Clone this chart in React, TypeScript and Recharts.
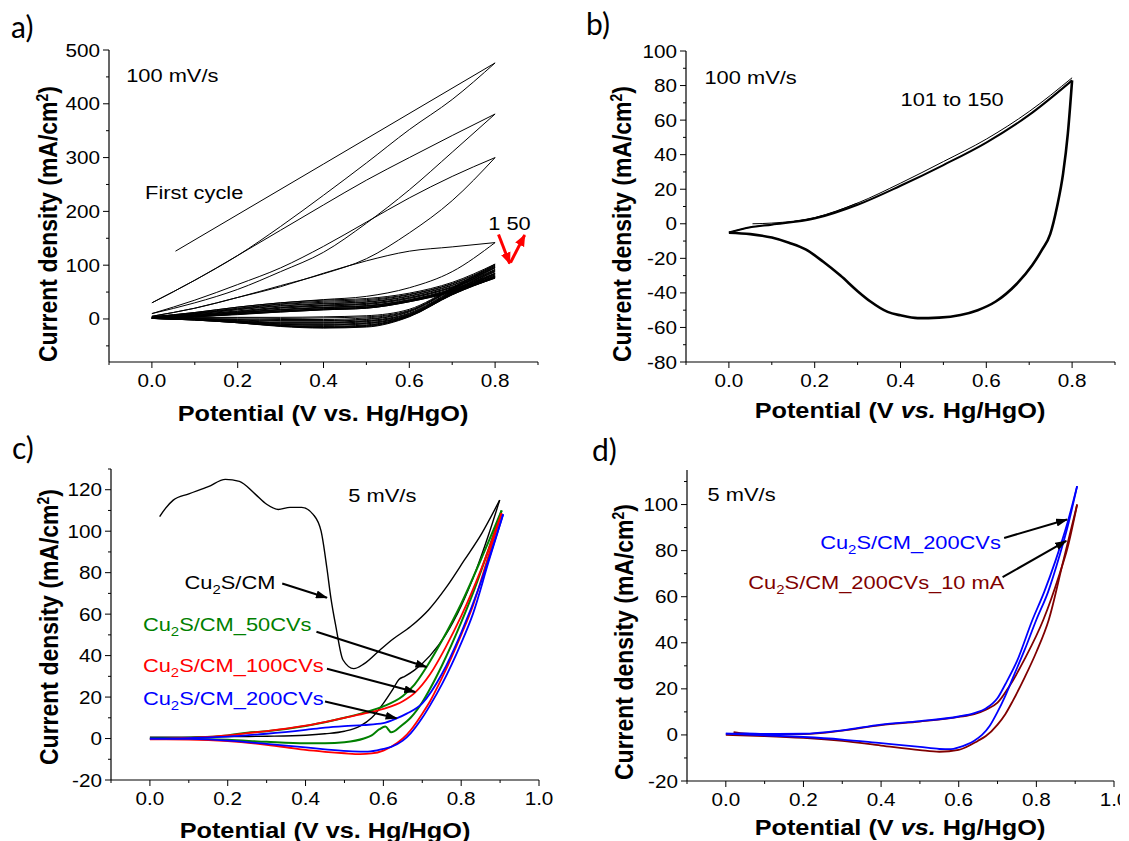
import React from "react";
import { LineChart, Line, XAxis, YAxis, ReferenceDot, ReferenceLine } from "recharts";

const FONT = "'Liberation Sans', Arial, sans-serif";
const SX = 1.15; // the source figure is slightly stretched horizontally

// ---------- tick values ----------
const xTicksAB = [-0.1, 0, 0.1, 0.2, 0.3, 0.4, 0.5, 0.6, 0.7, 0.8, 0.9];
const xTicksCD = [-0.1, 0, 0.1, 0.2, 0.3, 0.4, 0.5, 0.6, 0.7, 0.8, 0.9, 1.0];
const yTicksA = [-50, 0, 50, 100, 150, 200, 250, 300, 350, 400, 450, 500];
const yTicksB = [-80, -70, -60, -50, -40, -30, -20, -10, 0, 10, 20, 30, 40, 50, 60, 70, 80, 90, 100];
const yTicksC = [-20, -10, 0, 10, 20, 30, 40, 50, 60, 70, 80, 90, 100, 110, 120, 130];
const yTicksD = [-20, -10, 0, 10, 20, 30, 40, 50, 60, 70, 80, 90, 100, 110];

// ---------- panel a: first 50 cycles ----------
const a1Up = [[0.055, 126], [0.4, 288], [0.8, 476]];
const a1Down = [[0.8, 476], [0.7, 408], [0.6, 352], [0.5, 290], [0.4, 230], [0.3, 172], [0.2, 118], [0.1, 72], [0, 30]];
const a2Up = [[0, 30], [0.1, 72], [0.2, 118], [0.3, 165], [0.4, 212], [0.5, 258], [0.6, 300], [0.7, 341], [0.8, 381]];
const a2Down = [[0.8, 381], [0.7, 310], [0.6, 240], [0.5, 178], [0.4, 124], [0.3, 88], [0.2, 55], [0.1, 30], [0, 10]];
const a3Up = [[0, 10], [0.1, 35], [0.2, 64], [0.3, 95], [0.4, 135], [0.5, 180], [0.6, 225], [0.7, 265], [0.8, 300]];
const a3Down = [[0.8, 300], [0.7, 220], [0.6, 160], [0.5, 112], [0.4, 84], [0.3, 62], [0.2, 40], [0.1, 20], [0, 5]];
const a4Up = [[0, 5], [0.1, 20], [0.2, 40], [0.3, 60], [0.4, 85], [0.5, 108], [0.6, 126], [0.7, 134], [0.8, 142]];
const a4Down = [[0.8, 142], [0.7, 88], [0.6, 58], [0.5, 42], [0.4, 36], [0.3, 30], [0.2, 22], [0.1, 12], [0, 4]];

// later cycles (5 to 50) crowd into a band; a selection of them
const bandUpX = [0, 0.1, 0.2, 0.3, 0.4, 0.5, 0.6, 0.7, 0.8];
const bandDownX = [0.8, 0.7, 0.6, 0.5, 0.4, 0.3, 0.2, 0.1, 0];
const bandUp = [
  [4, 12, 22, 30, 35, 38, 48, 68, 102],
  [4, 11, 20, 28, 33, 36, 46, 66, 100],
  [3, 10, 19, 27, 31, 34, 45, 65, 98],
  [3, 10, 18, 25, 29, 32, 43, 63, 96],
  [3, 9, 17, 24, 28, 31, 42, 62, 95],
  [2, 8, 15, 22, 26, 29, 40, 60, 92],
  [2, 8, 14, 21, 25, 28, 39, 59, 90],
  [2, 7, 13, 20, 24, 27, 38, 58, 88],
  [2, 6, 12, 18, 22, 25, 36, 56, 85],
  [1, 6, 12, 17, 21, 24, 35, 55, 84],
  [1, 5, 11, 17, 21, 24, 35, 54, 82],
  [1, 5, 10, 15, 19, 22, 34, 53, 80],
  [1, 5, 10, 15, 19, 22, 33, 52, 79],
  [1, 4, 9, 14, 18, 21, 33, 52, 78],
  [1, 4, 9, 13, 17, 20, 32, 51, 77],
  [1, 4, 8, 13, 17, 20, 32, 50, 76],
];
const bandDown = [
  [102, 58, 18, 6, 4, 3, 3, 3, 4],
  [100, 57, 16, 4, 2, 1, 2, 2, 3],
  [98, 56, 15, 2, -1, -1, 0, 1, 3],
  [96, 55, 14, 0, -3, -3, -1, 0, 3],
  [95, 54, 13, -1, -4, -4, -2, 0, 2],
  [92, 52, 11, -3, -6, -6, -3, 0, 2],
  [90, 51, 10, -4, -7, -7, -4, -1, 2],
  [88, 50, 9, -5, -8, -8, -4, -1, 2],
  [85, 49, 8, -7, -10, -9, -5, -1, 1],
  [84, 48, 7, -8, -11, -10, -5, -1, 1],
  [82, 48, 7, -9, -12, -11, -6, -1, 1],
  [80, 47, 6, -11, -14, -12, -6, -1, 1],
  [79, 46, 6, -12, -15, -12, -6, -1, 1],
  [78, 46, 5, -13, -16, -13, -7, -2, 1],
  [77, 45, 5, -14, -16, -13, -7, -2, 1],
  [76, 45, 4, -15, -17, -14, -7, -2, 1],
];

// ---------- panel b: cycles 101 to 150 ----------
const bStart = [[0.055, 0], [0.1, 0.4], [0.2, 3.6], [0.3, 12]];
const bUp1 = [[0, -5], [0.05, -2], [0.1, -0.5], [0.2, 3], [0.3, 11], [0.4, 22], [0.5, 34], [0.6, 47], [0.7, 63], [0.8, 83]];
const bUp2 = [[0, -5], [0.05, -2], [0.1, -0.3], [0.2, 3.5], [0.3, 12], [0.4, 23.5], [0.5, 36], [0.6, 49], [0.7, 65], [0.8, 84.5]];
const bDown = [[0.8, 83], [0.79, 52], [0.779, 29], [0.765, 10], [0.749, -6], [0.73, -15], [0.707, -24], [0.67, -35], [0.622, -45], [0.58, -50], [0.54, -52.8], [0.49, -54.3], [0.44, -54.6], [0.4, -53], [0.37, -51], [0.33, -45], [0.3, -39], [0.26, -30], [0.22, -22], [0.18, -15], [0.14, -11], [0.1, -8], [0.05, -6], [0, -5.2]];

// ---------- panel c: 5 mV/s ----------
const cBlackUp = [[0.025, 107], [0.04, 111], [0.06, 115], [0.1, 118], [0.15, 121.5], [0.194, 125], [0.23, 124], [0.27, 118], [0.3, 113], [0.33, 110.5], [0.36, 111.5], [0.39, 111.5], [0.42, 108], [0.44, 100], [0.455, 82], [0.465, 68], [0.478, 54], [0.496, 38], [0.524, 33.7], [0.55, 36], [0.59, 42.5], [0.625, 48], [0.67, 54], [0.716, 62], [0.762, 73], [0.808, 86], [0.853, 99], [0.899, 115]];
const cBlackDown = [[0.899, 115], [0.87, 98], [0.84, 82], [0.8, 64], [0.76, 50], [0.72, 40], [0.68, 33], [0.655, 30], [0.64, 28.5], [0.625, 24], [0.6, 17], [0.57, 10], [0.54, 6], [0.5, 3.5], [0.45, 2.3], [0.4, 1.6], [0.3, 1.1], [0.2, 0.9], [0.1, 0.7], [0, 0.6]];
const cGreenUp = [[0, 0], [0.1, 0.4], [0.2, 1.5], [0.25, 2.8], [0.3, 3.5], [0.4, 6], [0.5, 10], [0.55, 12.5], [0.6, 15.5], [0.65, 20.5], [0.68, 26], [0.711, 34.5], [0.75, 47], [0.8, 65], [0.85, 86], [0.904, 110]];
const cGreenDown = [[0.904, 110], [0.87, 91], [0.83, 70], [0.8, 56], [0.75, 35], [0.72, 24], [0.7, 17.5], [0.67, 10], [0.645, 6], [0.62, 3], [0.605, 5.8], [0.59, 4.5], [0.57, 1.5], [0.55, 0], [0.5, -1.8], [0.45, -2.3], [0.4, -2.3], [0.3, -1.6], [0.2, -0.6], [0.1, -0.1], [0, 0]];
const cRedUp = [[0, -0.3], [0.1, 0.3], [0.2, 1.5], [0.25, 2.6], [0.3, 3.6], [0.4, 6.2], [0.5, 10], [0.55, 12], [0.6, 14.3], [0.65, 18], [0.682, 22.3], [0.72, 31], [0.76, 44], [0.8, 59], [0.85, 81], [0.904, 108.7]];
const cRedDown = [[0.904, 108.7], [0.87, 88], [0.83, 64], [0.8, 50], [0.75, 29], [0.72, 18], [0.7, 12], [0.67, 4], [0.65, 0], [0.62, -4], [0.6, -5.8], [0.57, -7.2], [0.54, -7.5], [0.5, -7.1], [0.45, -6.4], [0.4, -5.5], [0.35, -4.2], [0.3, -3], [0.2, -1.2], [0.1, -0.5], [0, -0.4]];
const cBlueUp = [[0, 0], [0.1, 0.2], [0.2, 0.9], [0.3, 2.3], [0.4, 4.2], [0.45, 5.3], [0.5, 6], [0.55, 6.5], [0.6, 7.4], [0.634, 9.7], [0.66, 12], [0.7, 17], [0.75, 31], [0.8, 51], [0.85, 75], [0.908, 108.2]];
const cBlueDown = [[0.908, 108.2], [0.87, 85], [0.83, 60], [0.8, 46], [0.75, 26], [0.72, 16], [0.7, 10], [0.67, 2.5], [0.65, -1], [0.62, -4], [0.6, -5], [0.56, -6.3], [0.52, -6.2], [0.45, -5.2], [0.4, -4.3], [0.3, -2.6], [0.2, -1], [0.1, -0.2], [0, 0]];

// ---------- panel d: 5 mV/s ----------
const dBlueUp = [[0, 0.6], [0.05, 0.7], [0.1, 0.4], [0.2, 0.5], [0.3, 2], [0.4, 4.5], [0.5, 6], [0.6, 8], [0.64, 9.5], [0.67, 11.5], [0.7, 16], [0.72, 22], [0.75, 32], [0.79, 50], [0.82, 62], [0.85, 76], [0.88, 92], [0.905, 108]];
const dBlueDown = [[0.905, 108], [0.88, 90], [0.86, 78], [0.83, 62], [0.8, 50], [0.77, 37], [0.74, 25], [0.72, 17], [0.7, 10], [0.68, 4], [0.66, 0], [0.64, -2.5], [0.62, -4.2], [0.6, -5.4], [0.58, -6.2], [0.55, -6.1], [0.5, -5.2], [0.4, -3.6], [0.3, -2], [0.2, -0.9], [0.1, -0.2], [0, 0.6]];
const dRedUp = [[0.02, 1.2], [0.05, 0.6], [0.1, 0.3], [0.2, 0.4], [0.3, 1.9], [0.4, 4.3], [0.5, 5.8], [0.6, 7.8], [0.64, 9], [0.67, 11], [0.7, 14], [0.73, 21], [0.77, 33], [0.818, 50], [0.86, 70], [0.88, 81], [0.905, 100]];
const dRedDown = [[0.905, 100], [0.87, 76], [0.832, 50], [0.8, 36], [0.77, 25], [0.74, 15], [0.72, 9], [0.7, 4.5], [0.67, -0.5], [0.65, -2.5], [0.6, -6.5], [0.55, -7.3], [0.5, -6.6], [0.4, -4.6], [0.3, -2.6], [0.2, -1.3], [0.1, -0.5], [0, 0]];

const pts = (a: number[][]) => a.map(([x, y]) => ({ x, y }));
const zip = (xs: number[], ys: number[]) => xs.map((x, i) => ({ x, y: ys[i] }));

const aSweeps = [
  pts(a1Up), pts(a1Down), pts(a2Up), pts(a2Down), pts(a3Up), pts(a3Down), pts(a4Up), pts(a4Down),
  ...bandUp.flatMap((u, i) => [zip(bandUpX, u), zip(bandDownX, bandDown[i])]),
];

// ---------- axes ----------
const AXIS = { stroke: "#000", strokeWidth: 1.2 };
const TICK_FS = 18;
const fmtX = (v: number) => v.toFixed(1);
const fmtY = (v: number) => String(Math.round(v));
const xMajor = (v: number) => Math.round(v * 10) % 2 === 0;
const yMajor100 = (v: number) => Math.round(v) % 100 === 0;
const yMajor20 = (v: number) => Math.round(v) % 20 === 0;

const bottomTick = (isMajor: (v: number) => boolean) => (p: any) => {
  const { x, y, payload } = p;
  const major = isMajor(payload.value);
  return (
    <g>
      <line x1={x} x2={x} y1={y} y2={y + (major ? 6 : 3)} stroke="#000" />
      {major && (
        <text transform={`translate(${x},${y + 25}) scale(${SX},1)`} textAnchor="middle" fontFamily={FONT} fontSize={TICK_FS} fill="#000">
          {fmtX(payload.value)}
        </text>
      )}
    </g>
  );
};
const leftTick = (isMajor: (v: number) => boolean) => (p: any) => {
  const { x, y, payload } = p;
  const major = isMajor(payload.value);
  return (
    <g>
      <line x1={x - (major ? 6 : 3)} x2={x} y1={y} y2={y} stroke="#000" />
      {major && (
        <text transform={`translate(${x - 9},${y + 6.5}) scale(${SX},1)`} textAnchor="end" fontFamily={FONT} fontSize={TICK_FS} fill="#000">
          {fmtY(payload.value)}
        </text>
      )}
    </g>
  );
};
const topTick = (isMajor: (v: number) => boolean) => (p: any) => (
  <line x1={p.x} x2={p.x} y1={p.y} y2={p.y + (isMajor(p.payload.value) ? 5 : 3)} stroke="#000" />
);
const rightTick = (isMajor: (v: number) => boolean) => (p: any) => (
  <line x1={p.x - (isMajor(p.payload.value) ? 5 : 3)} x2={p.x} y1={p.y} y2={p.y} stroke="#000" />
);

function frame(xDomain: number[], yDomain: number[], xTicks: number[], yTicks: number[], yMajor: (v: number) => boolean) {
  const common = { tickSize: 0, tickMargin: 0, tickLine: false, axisLine: AXIS, allowDataOverflow: true, interval: 0 as const };
  return [
    <XAxis key="xb" xAxisId="x" dataKey="x" type="number" domain={xDomain} ticks={xTicks} height={30} tick={bottomTick(xMajor)} {...common} />,
    <XAxis key="xt" xAxisId="top" orientation="top" dataKey="x" type="number" domain={xDomain} ticks={xTicks} height={0} tick={topTick(xMajor)} {...common} />,
    <YAxis key="yl" yAxisId="y" type="number" domain={yDomain} ticks={yTicks} width={50} tick={leftTick(yMajor)} {...common} />,
    <YAxis key="yr" yAxisId="right" orientation="right" type="number" domain={yDomain} ticks={yTicks} width={0} tick={rightTick(yMajor)} {...common} />,
  ];
}

const note = (content: React.ReactNode, color = "#000", size = 19) => (p: any) => (
  <text transform={`translate(${p.cx},${p.cy}) scale(${SX},1)`} fontFamily={FONT} fontSize={size} fill={color}>
    {content}
  </text>
);
const arrow = (color: string, w: number, marker: string) => (p: any) => (
  <line x1={p.x1} y1={p.y1} x2={p.x2} y2={p.y2} stroke={color} strokeWidth={w} markerEnd={`url(#${marker})`} />
);
const cu2s = (rest: string) => (
  <>
    Cu<tspan dy={5} fontSize={13}>2</tspan>
    <tspan dy={-5}>{rest}</tspan>
  </>
);

const sweep = (data: { x: number; y: number }[], key: string, color: string, w: number) => (
  <Line key={key} xAxisId="x" yAxisId="y" data={data} dataKey="y" type="monotone" stroke={color} strokeWidth={w} dot={false} activeDot={false} isAnimationActive={false} />
);

function PanelA() {
  return (
    <LineChart width={560} height={420} margin={{ top: 50, right: 22, bottom: 28, left: 59 }}>
      {frame([-0.1, 0.9], [-80, 500], xTicksAB, yTicksA, yMajor100)}
      {aSweeps.map((d, i) => sweep(d, `a${i}`, "#000", 1))}
      <ReferenceDot xAxisId="x" yAxisId="y" x={-0.06} y={440} r={0} shape={note("100 mV/s")} />
      <ReferenceDot xAxisId="x" yAxisId="y" x={-0.016} y={223} r={0} shape={note("First cycle")} />
      <ReferenceDot xAxisId="x" yAxisId="y" x={0.784} y={166} r={0} shape={note("1 50")} />
      <ReferenceLine xAxisId="x" yAxisId="y" segment={[{ x: 0.808, y: 157 }, { x: 0.834, y: 103 }]} shape={arrow("#ff0000", 3, "headRed")} />
      <ReferenceLine xAxisId="x" yAxisId="y" segment={[{ x: 0.836, y: 105 }, { x: 0.869, y: 156 }]} shape={arrow("#ff0000", 3, "headRed")} />
    </LineChart>
  );
}

function PanelB() {
  return (
    <LineChart width={560} height={420} margin={{ top: 51, right: 5, bottom: 28, left: 76 }}>
      {frame([-0.1, 0.9], [-80, 100], xTicksAB, yTicksB, yMajor20)}
      {sweep(pts(bStart), "b0", "#000", 1)}
      {sweep(pts(bUp1), "b1", "#000", 2)}
      {sweep(pts(bUp2), "b2", "#000", 1)}
      {sweep(pts(bDown), "b3", "#000", 2.6)}
      <ReferenceDot xAxisId="x" yAxisId="y" x={-0.057} y={81} r={0} shape={note("100 mV/s")} />
      <ReferenceDot xAxisId="x" yAxisId="y" x={0.4} y={68.4} r={0} shape={note("101 to 150")} />
    </LineChart>
  );
}

function PanelC() {
  return (
    <LineChart width={560} height={420} margin={{ top: 49, right: 21, bottom: 30, left: 61 }}>
      {frame([-0.1, 1.0], [-20, 130], xTicksCD, yTicksC, yMajor20)}
      {sweep(pts(cBlackUp), "c0", "#000", 1.4)}
      {sweep(pts(cBlackDown), "c1", "#000", 1.4)}
      {sweep(pts(cGreenUp), "c2", "#008000", 2)}
      {sweep(pts(cGreenDown), "c3", "#008000", 2)}
      {sweep(pts(cRedUp), "c4", "#ff0000", 1.8)}
      {sweep(pts(cRedDown), "c5", "#ff0000", 1.8)}
      {sweep(pts(cBlueUp), "c6", "#0000ff", 1.8)}
      {sweep(pts(cBlueDown), "c7", "#0000ff", 1.8)}
      <ReferenceDot xAxisId="x" yAxisId="y" x={0.51} y={114.3} r={0} shape={note("5 mV/s")} />
      <ReferenceDot xAxisId="x" yAxisId="y" x={0.089} y={72.3} r={0} shape={note(cu2s("S/CM"))} />
      <ReferenceDot xAxisId="x" yAxisId="y" x={-0.018} y={51.9} r={0} shape={note(cu2s("S/CM_50CVs"), "#008000")} />
      <ReferenceDot xAxisId="x" yAxisId="y" x={-0.018} y={32} r={0} shape={note(cu2s("S/CM_100CVs"), "#ff0000")} />
      <ReferenceDot xAxisId="x" yAxisId="y" x={-0.018} y={16.2} r={0} shape={note(cu2s("S/CM_200CVs"), "#0000ff")} />
      <ReferenceLine xAxisId="x" yAxisId="y" segment={[{ x: 0.34, y: 74.8 }, { x: 0.455, y: 67.9 }]} shape={arrow("#000", 2, "headBlack")} />
      <ReferenceLine xAxisId="x" yAxisId="y" segment={[{ x: 0.428, y: 51.5 }, { x: 0.711, y: 34.5 }]} shape={arrow("#000", 2, "headBlack")} />
      <ReferenceLine xAxisId="x" yAxisId="y" segment={[{ x: 0.455, y: 33.7 }, { x: 0.682, y: 22.4 }]} shape={arrow("#000", 2, "headBlack")} />
      <ReferenceLine xAxisId="x" yAxisId="y" segment={[{ x: 0.45, y: 17.9 }, { x: 0.634, y: 9.8 }]} shape={arrow("#000", 2, "headBlack")} />
    </LineChart>
  );
}

function PanelD() {
  return (
    <LineChart width={560} height={420} margin={{ top: 50, right: 6, bottom: 29, left: 77 }}>
      {frame([-0.1, 1.0], [-20, 115], xTicksCD, yTicksD, yMajor20)}
      {sweep(pts(dRedUp), "d0", "#800000", 1.8)}
      {sweep(pts(dRedDown), "d1", "#800000", 1.8)}
      {sweep(pts(dBlueUp), "d2", "#0000ff", 1.8)}
      {sweep(pts(dBlueDown), "d3", "#0000ff", 1.8)}
      <ReferenceDot xAxisId="x" yAxisId="y" x={-0.047} y={101.5} r={0} shape={note("5 mV/s")} />
      <ReferenceDot xAxisId="x" yAxisId="y" x={0.243} y={80.7} r={0} shape={note(cu2s("S/CM_200CVs"), "#0000ff")} />
      <ReferenceDot xAxisId="x" yAxisId="y" x={0.058} y={63.3} r={0} shape={note(cu2s("S/CM_200CVs_10 mA"), "#800000")} />
      <ReferenceLine xAxisId="x" yAxisId="y" segment={[{ x: 0.717, y: 85.5 }, { x: 0.879, y: 93.5 }]} shape={arrow("#000", 2, "headBlack")} />
      <ReferenceLine xAxisId="x" yAxisId="y" segment={[{ x: 0.713, y: 68.5 }, { x: 0.877, y: 84.2 }]} shape={arrow("#000", 2, "headBlack")} />
    </LineChart>
  );
}

function XTitle({ cx, y, italic }: { cx: number; y: number; italic?: boolean }) {
  return (
    <text transform={`translate(${cx},${y}) scale(${SX},1)`} textAnchor="middle" fontFamily={FONT} fontWeight="bold" fontSize={22} fill="#000">
      Potential (V {italic ? <tspan fontStyle="italic">vs.</tspan> : "vs."} Hg/HgO)
    </text>
  );
}

function YTitle({ x, cy }: { x: number; cy: number }) {
  return (
    <text transform={`translate(${x},${cy}) scale(${SX},1) rotate(-90)`} textAnchor="middle" fontFamily={FONT} fontWeight="bold" fontSize={23} fill="#000">
      Current density (mA/cm<tspan dy={-8} fontSize={14}>2</tspan>
      <tspan dy={8}>)</tspan>
    </text>
  );
}

function Letter({ x, y, t }: { x: number; y: number; t: string }) {
  return (
    <text x={x} y={y} fontFamily="Lato, 'Open Sans', sans-serif" fontSize={30} fill="#000">
      {t}
    </text>
  );
}

export default function App() {
  const abs = (left: number, top: number): React.CSSProperties => ({ position: "absolute", left, top });
  return (
    <div style={{ position: "absolute", left: 0, top: 0, width: 1129, height: 841, background: "#fff", overflow: "hidden" }}>
      <svg width={0} height={0} style={{ position: "absolute" }}>
        <defs>
          <marker id="headBlack" viewBox="0 0 12 8" refX="11" refY="4" markerWidth="6" markerHeight="4" orient="auto">
            <path d="M0,0 L12,4 L0,8 z" fill="#000" />
          </marker>
          <marker id="headRed" viewBox="0 0 12 10" refX="11" refY="5" markerWidth="4" markerHeight="3.4" orient="auto">
            <path d="M0,0 L12,5 L0,10 z" fill="#ff0000" />
          </marker>
        </defs>
      </svg>
      <div style={abs(0, 0)}><PanelA /></div>
      <div style={abs(560, 0)}><PanelB /></div>
      <div style={abs(0, 420)}><PanelC /></div>
      <div style={abs(560, 420)}><PanelD /></div>
      <svg width={1129} height={841} style={{ position: "absolute", left: 0, top: 0, pointerEvents: "none" }}>
        <Letter x={11} y={38} t="a)" />
        <Letter x={586} y={35} t="b)" />
        <Letter x={12} y={459} t="c)" />
        <Letter x={592} y={461} t="d)" />
        <XTitle cx={323} y={421} />
        <XTitle cx={900} y={418} italic />
        <XTitle cx={325} y={838} />
        <XTitle cx={900} y={835} italic />
        <YTitle x={57} cy={224} />
        <YTitle x={631} cy={224} />
        <YTitle x={58} cy={627} />
        <YTitle x={633} cy={642} />
      </svg>
    </div>
  );
}
